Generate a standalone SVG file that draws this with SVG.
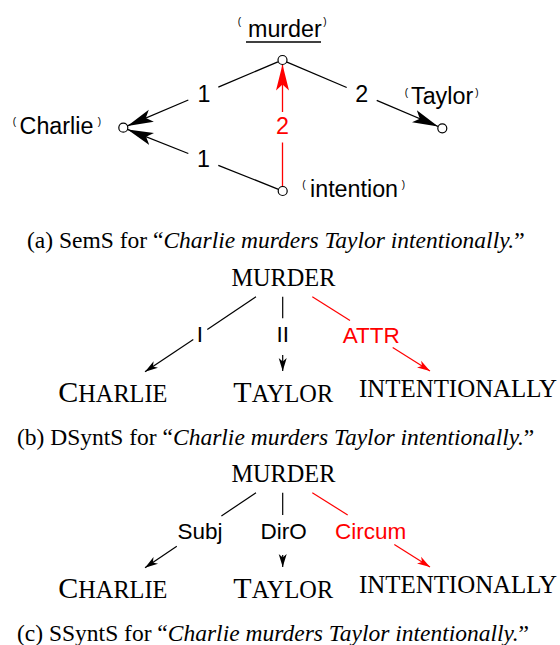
<svg xmlns="http://www.w3.org/2000/svg" width="560" height="645" viewBox="0 0 560 645">
<style>
.s{font-family:"Liberation Sans",Arial,sans-serif;font-size:22.5px;fill:#000}
.sl{font-family:"Liberation Sans",Arial,sans-serif;font-size:23.3px;fill:#000}
.br{font-family:"Liberation Sans",Arial,sans-serif;font-size:10px;fill:#000}
.r{fill:#ff0000}
.cap{font-family:"Liberation Serif","Times New Roman",serif;font-size:23.5px;fill:#000}
.sc{font-family:"Liberation Serif","Times New Roman",serif;font-size:24.3px;fill:#000}
.big{font-size:30px}
.e{stroke:#000;stroke-width:1.3;fill:none}
.er{stroke:#ff0000;stroke-width:1.3;fill:none}
.t{stroke:#000;stroke-width:1.2;fill:none}
.tr{stroke:#ff0000;stroke-width:1.2;fill:none}
.node{fill:#fff;stroke:#000;stroke-width:1.2}
</style>
<defs>
<marker id="ab" markerUnits="userSpaceOnUse" markerWidth="27" markerHeight="15" viewBox="0 -7.5 27 15" refX="26" refY="0" orient="auto"><path d="M0,-6.5 L26,0 L0,6.5 L6,0 Z" fill="#000"/></marker>
<marker id="ar" markerUnits="userSpaceOnUse" markerWidth="27" markerHeight="15" viewBox="0 -7.5 27 15" refX="26" refY="0" orient="auto"><path d="M0,-6.5 L26,0 L0,6.5 L6,0 Z" fill="#ff0000"/></marker>
<marker id="sb" markerUnits="userSpaceOnUse" markerWidth="14" markerHeight="10" viewBox="0 -5 14 10" refX="13" refY="0" orient="auto"><path d="M0,-4 L13,0 L0,4 L3.5,0 Z" fill="#000"/></marker>
<marker id="sr" markerUnits="userSpaceOnUse" markerWidth="14" markerHeight="10" viewBox="0 -5 14 10" refX="13" refY="0" orient="auto"><path d="M0,-4 L13,0 L0,4 L3.5,0 Z" fill="#ff0000"/></marker>
</defs>

<g id="connectors">
  <!-- (a) SemS -->
  <line class="e" x1="277.9" y1="61.8" x2="218.3" y2="87.2"/>
  <line class="e" x1="188.3" y1="100" x2="127.4" y2="125.9" marker-end="url(#ab)"/>
  <line class="e" x1="278.5" y1="189.3" x2="218.3" y2="165.4"/>
  <line class="e" x1="188.3" y1="153.5" x2="127.5" y2="129.4" marker-end="url(#ab)"/>
  <line class="e" x1="286.4" y1="61.8" x2="346.7" y2="87.5"/>
  <line class="e" x1="376.7" y1="100.3" x2="438.2" y2="126.5" marker-end="url(#ab)"/>
  <line class="er" x1="282.5" y1="186.5" x2="282.5" y2="142.5"/>
  <line class="er" x1="282.5" y1="112" x2="282.5" y2="64.5" marker-end="url(#ar)"/>
  <text class="sl" x="204" y="102" text-anchor="middle">1</text>
  <text class="sl" x="203.5" y="167" text-anchor="middle">1</text>
  <text class="sl" x="361.7" y="102" text-anchor="middle">2</text>
  <text class="sl r" x="282.5" y="133.5" text-anchor="middle">2</text>
  <!-- (b) DSyntS -->
  <line class="t" x1="256" y1="296.7" x2="207.3" y2="329.5"/>
  <line class="t" x1="193.3" y1="339.6" x2="145" y2="371.7" marker-end="url(#sb)"/>
  <line class="t" x1="282.7" y1="296.7" x2="282.7" y2="318.3"/>
  <line class="t" x1="282.7" y1="355" x2="282.7" y2="371" marker-end="url(#sb)"/>
  <line class="tr" x1="312.3" y1="296.7" x2="350" y2="320.5"/>
  <line class="tr" x1="392.7" y1="347.5" x2="430" y2="371" marker-end="url(#sr)"/>
  <text class="s" x="200" y="342" text-anchor="middle">I</text>
  <text class="s" x="282.7" y="342" text-anchor="middle">II</text>
  <text class="s r" x="371.3" y="342.5" text-anchor="middle">ATTR</text>
  <!-- (c) SSyntS -->
  <line class="t" x1="256" y1="492.7" x2="221.4" y2="516"/>
  <line class="t" x1="176.8" y1="546.2" x2="145" y2="567.7" marker-end="url(#sb)"/>
  <line class="t" x1="282.7" y1="492.7" x2="282.7" y2="515"/>
  <line class="t" x1="282.7" y1="555" x2="282.7" y2="567" marker-end="url(#sb)"/>
  <line class="tr" x1="312.3" y1="492.7" x2="347.7" y2="515"/>
  <line class="tr" x1="394.3" y1="544.5" x2="430" y2="567" marker-end="url(#sr)"/>
  <text class="s" x="200" y="539" text-anchor="middle">Subj</text>
  <text class="s" x="283.7" y="539" text-anchor="middle">DirO</text>
  <text class="s r" x="370.7" y="539" text-anchor="middle">Circum</text>
</g>

<g id="sem-murder">
  <circle class="node" cx="282.5" cy="60" r="4.5"/>
  <text class="br" x="239.5" y="24.5" text-anchor="middle">(</text>
  <text class="sl" x="248" y="36.7">murder</text>
  <line x1="246" y1="42" x2="321" y2="42" stroke="#000" stroke-width="1.3"/>
  <text class="br" x="325" y="24.5" text-anchor="middle">)</text>
</g>
<g id="sem-charlie">
  <circle class="node" cx="123.3" cy="127.7" r="4.5"/>
  <text class="br" x="14.5" y="124.5" text-anchor="middle">(</text>
  <text class="sl" x="19.6" y="133.5">Charlie</text>
  <text class="br" x="99.5" y="124.5" text-anchor="middle">)</text>
</g>
<g id="sem-taylor">
  <circle class="node" cx="442.3" cy="128.3" r="4.5"/>
  <text class="br" x="406.5" y="95.5" text-anchor="middle">(</text>
  <text class="sl" x="411" y="103.5">Taylor</text>
  <text class="br" x="477" y="95.5" text-anchor="middle">)</text>
</g>
<g id="sem-intention">
  <circle class="node" cx="282.7" cy="191" r="4.5"/>
  <text class="br" x="304" y="187.5" text-anchor="middle">(</text>
  <text class="sl" x="310" y="197">intention</text>
  <text class="br" x="403.5" y="187.5" text-anchor="middle">)</text>
</g>
<g id="caption-a">
  <text class="cap" x="27" y="248">(a) SemS for “<tspan font-style="italic">Charlie murders Taylor intentionally.</tspan>”</text>
</g>

<g id="dsynt-murder"><text class="sc" x="283.4" y="286" text-anchor="middle">MURDER</text></g>
<g id="dsynt-charlie"><text class="sc" x="58.3" y="401.7"><tspan class="big">C</tspan>HARLIE</text></g>
<g id="dsynt-taylor"><text class="sc" x="233.3" y="401.7"><tspan class="big">T</tspan>AYLOR</text></g>
<g id="dsynt-intentionally"><text class="sc" x="359" y="396.5" textLength="198" lengthAdjust="spacingAndGlyphs">INTENTIONALLY</text></g>
<g id="caption-b">
  <text class="cap" x="17" y="445">(b) DSyntS for “<tspan font-style="italic">Charlie murders Taylor intentionally.</tspan>”</text>
</g>

<g id="ssynt-murder"><text class="sc" x="283.4" y="482" text-anchor="middle">MURDER</text></g>
<g id="ssynt-charlie"><text class="sc" x="58.3" y="597.7"><tspan class="big">C</tspan>HARLIE</text></g>
<g id="ssynt-taylor"><text class="sc" x="233.3" y="597.7"><tspan class="big">T</tspan>AYLOR</text></g>
<g id="ssynt-intentionally"><text class="sc" x="359" y="592.5" textLength="198" lengthAdjust="spacingAndGlyphs">INTENTIONALLY</text></g>
<g id="caption-c">
  <text class="cap" x="17" y="641">(c) SSyntS for “<tspan font-style="italic">Charlie murders Taylor intentionally.</tspan>”</text>
</g>
</svg>
